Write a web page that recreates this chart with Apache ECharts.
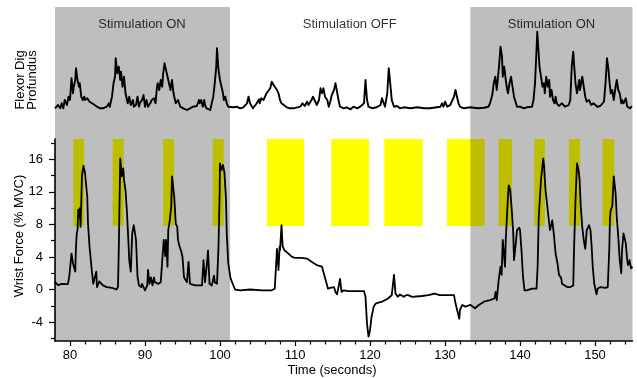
<!DOCTYPE html>
<html>
<head>
<meta charset="utf-8">
<script src="https://cdn.jsdelivr.net/npm/echarts@6/dist/echarts.min.js"></script>
<style>
html,body{margin:0;padding:0;background:#fff;}
#chart{width:637px;height:378px;}
</style>
</head>
<body>
<div id="chart"></div>
<script>
// ---- Data ----
// Wrist force (% MVC) trace: time (s) and value
const forceT = [78.0,78.4,78.9,79.7,79.9,80.1,80.2,80.4,80.7,80.8,80.9,81.0,81.1,81.2,81.3,81.4,81.5,81.6,81.8,82.0,82.3,82.4,82.6,82.9,83.1,83.3,83.5,83.6,83.9,84.1,84.4,84.9,85.6,86.2,86.4,86.5,86.7,86.9,87.1,87.2,87.4,87.6,87.8,87.9,88.1,88.3,88.5,88.7,88.8,89.0,89.2,89.5,89.6,89.8,90.0,90.3,90.4,90.6,90.8,91.0,91.2,91.3,91.8,92.1,92.3,92.5,92.7,92.8,93.0,93.1,93.3,93.5,93.6,93.7,93.9,94.1,94.3,94.4,94.6,94.8,95.0,95.2,95.3,95.6,95.8,96.0,96.2,96.7,97.1,97.6,97.8,98.0,98.3,98.4,98.6,98.9,99.2,99.3,99.6,99.8,99.95,100.0,100.2,100.4,100.6,100.8,100.9,101.1,101.4,101.7,102.0,102.7,104.0,105.6,106.9,107.3,107.6,107.8,107.95,108.0,108.2,108.35,108.6,108.9,109.6,110.0,110.9,111.6,112.2,112.9,113.6,113.8,114.1,114.4,114.7,115.2,115.4,115.6,115.8,116.0,116.2,116.5,117.1,118.0,119.2,119.4,119.6,119.8,120.0,120.2,120.5,120.8,121.6,122.4,122.9,123.1,123.2,123.4,123.7,124.0,124.2,124.5,124.8,125.1,125.6,126.9,127.8,128.6,129.3,129.8,131.2,131.4,131.6,131.9,132.0,132.3,132.7,133.4,134.0,134.5,135.2,136.0,136.6,136.75,136.9,137.15,137.4,137.55,137.7,137.8,138.0,138.1,138.35,138.5,138.7,138.9,139.1,139.2,139.4,139.6,139.9,140.0,140.2,140.4,140.6,140.9,141.6,141.8,142.2,142.35,142.5,142.8,143.1,143.2,143.4,143.6,143.8,144.0,144.3,144.5,144.75,145.0,145.2,145.5,145.6,145.8,146.3,146.7,147.1,147.2,147.4,147.6,147.8,147.95,148.1,148.3,148.5,148.7,148.9,149.2,149.4,149.55,149.7,149.9,150.2,150.35,150.7,151.4,151.7,151.9,152.0,152.1,152.3,152.5,152.6,152.75,152.9,153.1,153.3,153.5,153.6,153.8,154.1,154.3,154.4,154.6,154.8,155.0];
const forceV = [0.94,0.53,0.7,0.65,1.56,1.6,4.4,3.2,2.2,5.3,6.9,7.3,9.8,9.0,10.0,7.7,10.6,14.1,15.2,14.3,11.4,8.1,5.3,2.4,0.7,0.5,2.2,0.3,1.0,0.8,0.5,0.3,0.2,0.0,0.3,4.8,16.1,13.9,14.9,13.5,12.2,9.4,5.7,3.6,2.2,6.9,7.9,8.1,6.1,1.6,0.5,0.3,0.7,0.3,-0.1,0.5,2.4,0.7,1.5,0.5,1.5,0.9,0.7,0.9,3.6,6.1,4.1,6.1,2.8,7.3,8.5,10.2,13.9,14.1,11.4,8.1,7.7,6.1,5.3,4.8,4.0,1.5,1.5,0.9,3.4,0.7,0.5,0.5,0.5,0.5,3.6,0.9,3.6,4.8,0.7,0.5,1.7,0.9,0.7,5.3,11.8,15.5,14.7,15.3,14.3,11.0,6.9,3.2,1.4,0.7,0.0,-0.1,0.0,-0.1,-0.1,0.1,5.0,2.4,5.3,4.8,7.9,5.3,4.8,4.6,4.0,3.9,3.9,3.8,3.4,3.0,2.8,2.6,1.1,0.1,0.2,0.3,-0.3,-0.6,0.3,1.3,-0.3,-0.1,-0.2,-0.2,-0.2,-0.9,-4.2,-5.8,-5.0,-3.4,-2.1,-1.7,-1.5,-1.1,-0.7,-0.5,1.8,-0.5,-0.9,-0.6,-0.6,-0.9,-0.7,-0.7,-0.9,-0.8,-0.7,-0.5,-0.7,-0.7,-0.7,-1.7,-1.5,-3.6,-2.5,-1.9,-2.1,-1.9,-2.3,-1.9,-1.5,-1.3,-1.1,-0.3,-1.3,1.1,2.8,1.8,6.1,6.3,2.8,6.1,10.6,12.8,12.2,9.8,6.9,3.6,5.3,7.3,7.6,7.3,4.8,1.6,-0.1,-0.1,0.1,0.3,0.1,2.8,8.9,13.5,16.1,15.3,12.2,10.6,8.9,7.3,8.5,6.9,4.4,3.2,1.8,1.4,0.7,0.9,0.3,0.3,0.5,4.8,11.0,15.5,14.7,13.5,10.2,7.7,6.1,5.0,7.3,7.9,7.3,5.3,2.8,0.7,-0.6,0.1,0.3,0.2,0.3,4.8,8.9,9.8,10.2,13.9,14.1,11.8,8.9,6.5,3.6,2.0,4.8,6.9,5.7,3.6,3.0,3.6,2.6,2.8];

// Flexor digitorum profundus EMG trace (arbitrary units): time (s) and value
const emgT = [78.0,78.2,78.4,78.7,78.9,79.1,79.3,79.6,79.8,80.0,80.2,80.4,80.5,80.7,80.8,81.0,81.2,81.3,81.5,81.7,81.9,82.0,82.3,82.6,82.8,83.1,83.6,84.0,84.4,84.9,85.2,85.3,85.6,85.8,86.0,86.1,86.3,86.5,86.7,86.8,87.0,87.2,87.4,87.6,87.7,87.9,88.1,88.4,88.5,88.8,89.0,89.2,89.3,89.6,89.8,90.0,90.2,90.4,90.7,90.9,91.2,91.4,91.6,91.7,91.9,92.1,92.3,92.4,92.6,92.8,92.9,93.1,93.2,93.4,93.6,93.8,94.0,94.1,94.4,94.7,95.1,95.6,96.0,96.4,96.9,97.2,97.3,97.5,97.7,97.9,98.0,98.2,98.7,98.9,99.1,99.3,99.5,99.6,99.7,99.8,100.0,100.2,100.4,100.5,100.7,100.9,101.1,101.3,101.8,102.2,102.7,103.1,103.6,103.8,104.0,104.4,104.9,105.2,105.3,105.5,105.8,106.2,106.7,106.9,107.1,107.3,107.6,107.8,108.0,108.2,108.4,108.9,109.3,109.8,110.7,111.0,111.3,111.6,111.8,112.2,112.4,112.9,113.2,113.4,113.6,113.8,114.0,114.3,114.5,114.7,114.9,115.2,115.4,115.6,115.8,116.0,116.5,116.9,117.4,117.8,118.3,118.7,119.2,119.4,119.6,119.8,120.3,120.9,121.4,121.6,121.8,122.0,122.3,122.5,122.7,122.9,123.2,123.6,124.0,124.5,125.4,126.3,127.2,128.0,128.9,129.4,129.6,129.8,130.0,130.3,130.7,131.2,131.4,131.6,131.8,132.0,132.5,133.4,134.3,135.2,135.8,136.0,136.3,136.5,136.7,136.9,137.2,137.4,137.6,137.7,137.9,138.1,138.3,138.4,138.6,138.8,139.0,139.2,139.4,139.6,140.0,140.5,140.9,141.6,141.8,142.0,142.2,142.3,142.4,142.6,142.8,143.0,143.2,143.3,143.5,143.7,143.9,144.0,144.2,144.4,144.6,144.75,144.9,145.2,145.6,146.0,146.5,146.7,146.9,147.1,147.2,147.4,147.6,147.9,148.0,148.3,148.5,148.7,148.9,149.2,149.5,149.8,150.3,150.7,151.2,151.4,151.6,151.8,151.95,152.1,152.3,152.5,152.75,152.9,153.1,153.3,153.5,153.6,153.8,154.1,154.3,154.5,154.7,154.9];
const emgV = [1.7,3.3,5,1.7,6.7,1.7,10,5,13.3,10,31.7,16.7,23.3,30,41.7,30,23.3,26.7,13.3,10,13.3,10,11.7,8.3,6.7,6,3.3,1.7,1.7,3.3,6.7,3.3,13.3,26.7,33.3,51.7,36.7,43.3,30,38.3,23.3,33.3,16.7,10,6.7,13.3,5,10,3.3,5,13.3,3.3,6.7,10,15,3.3,10,3.3,6.7,10,11.7,6.7,23.3,26.7,20,30,23.3,35,46.7,48.3,36.7,30,26.7,20,30,16.7,10,6.7,10,3.3,1.7,0,1.7,3.3,4,10,6.7,10,3.3,10,5,1.7,0,6.7,13.3,26.7,43.3,61.7,50,40,30,23.3,16.7,10,13.3,6.7,3.3,1.7,2.7,3.3,1.7,2.7,6.7,13.3,6.7,1.7,6.7,10.7,6.7,11.7,10,16.7,21.7,28.3,30,23.3,20,16.7,10,6.7,5,2.7,1.7,1.7,3.3,6.7,4,8.3,5,10,13.3,5,10,21.7,16.7,21.7,13.3,10,3.3,8.3,15,20,26.7,18.3,10,3.3,1.7,2.7,0.7,3.3,1.7,3.3,6.7,30,10,3.3,1.7,2.7,5,11.7,10,3.3,16.7,41.7,26.7,10,3.3,4,1.7,2.7,1.7,2.7,1.7,1.7,2.7,3.3,6.7,3.3,8.3,3.3,5,13.3,20,13.3,6.7,3.3,1.7,2.7,1.7,2.3,3.3,6.7,15,26.7,33.3,20,43.3,63.3,53.3,33.3,43.3,30,20,16.7,26.7,33.3,23.3,13.3,8.3,3.3,3.3,1.7,2.7,3.3,10,26.7,60,78.3,66.7,43.3,33.3,23.3,26.7,16.7,33.3,23.3,30,13.3,20,10,6.7,13.3,6.7,4,6.7,3.3,5,10,43.3,58.3,46.7,26.7,16.7,30,20,33.3,23.3,13.3,8.3,10,5,6.7,3.3,4,8.3,26.7,51.7,40,26.7,16.7,20,10,23.3,30,20,16.7,6.7,10,6.7,11.7,3.3,5,1.7,4];

// Stimulation windows (yellow bars): start / end times (s), force band (% MVC)
const stimStart = [80.44,85.69,92.4,99.03,106.27,114.84,121.91,130.27,137.16,141.91,146.53,151.03];
const stimEnd   = [81.87,87.16,93.87,100.49,111.2,119.87,127.03,135.29,138.93,143.33,148.0,152.57];
const stimLow = 7.8;
const stimHigh = 18.5;

// Stimulation ON periods (gray shading)
const onStart = [78, 133.38];
const onEnd   = [101.33, 155];

// Period labels
const periodLabels = ['Stimulation ON', 'Stimulation OFF', 'Stimulation ON'];
const periodLabelT = [89.6, 117.3, 144.2];

// Axis ticks and labels
const xMajor = [80, 90, 100, 110, 120, 130, 140, 150];
const xMinor = [82,84,86,88,92,94,96,98,102,104,106,108,112,114,116,118,122,124,126,128,132,134,136,138,142,144,146,148,152,154];
const yMajor = [-4, 0, 4, 8, 12, 16];
const yMinor = [-6, -2, 2, 6, 10, 14, 18];

// ---- Chart ----
const FONT = '"Liberation Sans", Arial, Helvetica, sans-serif';
const zip = (a, b) => a.map((v, i) => [v, b[i]]);
const chart = echarts.init(document.getElementById('chart'), null, {renderer: 'canvas'});

const X0 = 78, X1 = 155;
const GL = 55, GR = 4.5;

const option = {
  animation: false,
  backgroundColor: '#ffffff',
  textStyle: {fontFamily: FONT},
  grid: [
    {left: GL, right: GR, top: 7, height: 132},
    {left: GL, right: GR, top: 139, height: 202}
  ],
  xAxis: [
    {gridIndex: 0, type: 'value', min: X0, max: X1, show: false},
    {gridIndex: 1, type: 'value', min: X0, max: X1, position: 'bottom',
      axisLine: {show: true, onZero: false, lineStyle: {color: '#000', width: 1.6}},
      axisTick: {show: true, customValues: xMajor, length: 5, lineStyle: {color: '#000', width: 1.2}},
      axisLabel: {show: true, customValues: xMajor, margin: 8, color: '#000', fontSize: 13, fontFamily: FONT},
      splitLine: {show: false}},
    {gridIndex: 1, type: 'value', min: X0, max: X1, position: 'bottom',
      axisLine: {show: false, onZero: false},
      axisTick: {show: true, customValues: xMinor, length: 3.5, lineStyle: {color: '#000', width: 1.2}},
      axisLabel: {show: false},
      splitLine: {show: false}}
  ],
  yAxis: [
    {gridIndex: 0, type: 'value', min: -29, max: 103, show: false},
    {gridIndex: 1, type: 'value', min: -6.33, max: 18.5, position: 'left',
      axisLine: {show: true, onZero: false, lineStyle: {color: '#000', width: 1.6}},
      axisTick: {show: true, customValues: yMajor, length: 6, lineStyle: {color: '#000', width: 1.2}},
      axisLabel: {show: true, customValues: yMajor, margin: 12, color: '#000', fontSize: 13, fontFamily: FONT},
      splitLine: {show: false}},
    {gridIndex: 1, type: 'value', min: -6.33, max: 18.5, position: 'left',
      axisLine: {show: false, onZero: false},
      axisTick: {show: true, customValues: yMinor, length: 4, lineStyle: {color: '#000', width: 1.2}},
      axisLabel: {show: false},
      splitLine: {show: false}}
  ],
  series: [
    {
      name: 'stim', type: 'line', xAxisIndex: 1, yAxisIndex: 1, data: [], z: 1, silent: true,
      markArea: {silent: true, itemStyle: {color: '#ffff00', opacity: 1},
        data: stimStart.map((s, i) => [{xAxis: s, yAxis: stimLow}, {xAxis: stimEnd[i], yAxis: stimHigh}])}
    },
    {
      name: 'onBottom', type: 'line', xAxisIndex: 1, yAxisIndex: 1, data: [], z: 2, silent: true,
      markArea: {silent: true, itemStyle: {color: 'rgba(0,0,0,0.255)', opacity: 1},
        data: onStart.map((s, i) => [{xAxis: s}, {xAxis: onEnd[i]}])}
    },
    {
      name: 'onTop', type: 'line', xAxisIndex: 0, yAxisIndex: 0, data: [], z: 2, silent: true,
      markArea: {silent: true, itemStyle: {color: 'rgba(0,0,0,0.255)', opacity: 1},
        data: onStart.map((s, i) => [{xAxis: s}, {xAxis: onEnd[i]}])}
    },
    {
      name: 'Wrist Force', type: 'line', xAxisIndex: 1, yAxisIndex: 1, z: 3,
      data: zip(forceT, forceV), showSymbol: false, symbol: 'none',
      lineStyle: {color: '#000', width: 1.8, join: 'round'}
    },
    {
      name: 'Flexor Dig Profundus', type: 'line', xAxisIndex: 0, yAxisIndex: 0, z: 3,
      data: zip(emgT, emgV), showSymbol: false, symbol: 'none',
      lineStyle: {color: '#000', width: 1.9, join: 'round'}
    },
    {
      name: 'periods', type: 'scatter', xAxisIndex: 0, yAxisIndex: 0, z: 4, silent: true,
      symbolSize: 0,
      data: periodLabelT.map((t, i) => ({value: [t, 86], name: periodLabels[i]})),
      label: {show: true, position: 'inside', formatter: p => p.name,
        color: '#000', fontSize: 13, fontFamily: FONT}
    }
  ],
  graphic: [
    {type: 'text', x: 19, y: 236, rotation: Math.PI / 2,
      style: {text: 'Wrist Force (% MVC)', fill: '#000', font: '13px ' + FONT, textAlign: 'center', textVerticalAlign: 'middle'}},
    {type: 'text', x: 26, y: 80, rotation: Math.PI / 2,
      style: {text: 'Flexor Dig\nProfundus', fill: '#000', font: '13px ' + FONT, lineHeight: 12, textAlign: 'center', textVerticalAlign: 'middle'}},
    {type: 'text', x: 332, y: 370,
      style: {text: 'Time (seconds)', fill: '#000', font: '13px ' + FONT, textAlign: 'center', textVerticalAlign: 'middle'}}
  ]
};
chart.setOption(option);
</script>
</body>
</html>
